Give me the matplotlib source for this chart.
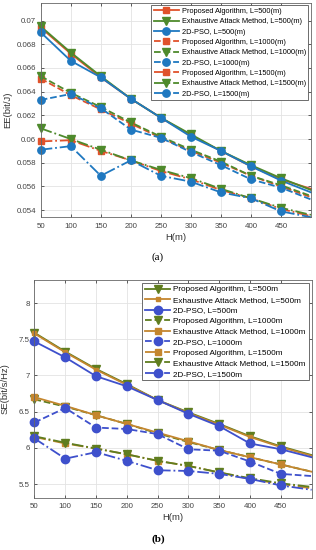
import matplotlib
matplotlib.use("Agg")
import matplotlib.pyplot as plt
from matplotlib.ticker import FuncFormatter

plt.rcParams['font.family'] = ['Liberation Sans', 'DejaVu Sans']

# H(m) values
h = [50, 100, 150, 200, 250, 300, 350, 400, 450, 500]
xticks = [50, 100, 150, 200, 250, 300, 350, 400, 450]

# (a) energy efficiency EE(bit/J)
ee_pa500 = [0.0694, 0.0672, 0.0652, 0.0634, 0.0618, 0.0603, 0.0590, 0.0577, 0.0566, 0.0558]
ee_ea500 = [0.0695, 0.0673, 0.0653, 0.0634, 0.0618, 0.0604, 0.0590, 0.0578, 0.0567, 0.0557]
ee_pso500 = [0.0690, 0.0666, 0.0652, 0.0634, 0.0618, 0.0602, 0.0590, 0.0577, 0.0565, 0.0555]
ee_pa1000 = [0.0651, 0.0637, 0.0625, 0.0613, 0.0601, 0.0590, 0.0580, 0.0569, 0.0560, 0.0551]
ee_ea1000 = [0.0653, 0.0639, 0.0627, 0.0614, 0.0602, 0.0591, 0.0581, 0.0569, 0.0561, 0.0552]
ee_pso1000 = [0.0633, 0.0638, 0.0626, 0.0608, 0.0601, 0.0589, 0.0578, 0.0566, 0.0559, 0.0549]
ee_pa1500 = [0.0598, 0.0599, 0.0590, 0.0582, 0.0573, 0.0566, 0.0557, 0.0550, 0.0541, 0.0535]
ee_ea1500 = [0.0609, 0.0600, 0.0591, 0.0582, 0.0574, 0.0567, 0.0558, 0.0550, 0.0542, 0.0536]
ee_pso1500 = [0.0591, 0.0594, 0.0569, 0.0582, 0.0569, 0.0564, 0.0555, 0.0550, 0.0539, 0.0534]

# (b) spectral efficiency SE(bit/s/Hz)
se_pa500 = [7.59, 7.33, 7.09, 6.88, 6.66, 6.49, 6.33, 6.16, 6.02, 5.90]
se_ea500 = [7.58, 7.32, 7.08, 6.87, 6.66, 6.48, 6.32, 6.15, 6.01, 5.89]
se_pso500 = [7.47, 7.25, 6.99, 6.85, 6.66, 6.47, 6.30, 6.06, 5.98, 5.87]
se_pa1000 = [6.67, 6.57, 6.45, 6.33, 6.20, 6.08, 5.97, 5.87, 5.77, 5.67]
se_ea1000 = [6.70, 6.58, 6.45, 6.33, 6.21, 6.09, 5.97, 5.87, 5.77, 5.67]
se_pso1000 = [6.35, 6.55, 6.28, 6.26, 6.19, 5.98, 5.96, 5.81, 5.64, 5.61]
se_pa1500 = [6.15, 6.06, 5.99, 5.91, 5.82, 5.75, 5.66, 5.57, 5.50, 5.44]
se_ea1500 = [6.16, 6.07, 5.99, 5.91, 5.82, 5.75, 5.66, 5.58, 5.51, 5.46]
se_pso1500 = [6.13, 5.85, 5.94, 5.82, 5.69, 5.68, 5.64, 5.57, 5.48, 5.42]

RED = '#E0522B'
GREEN = '#4E8A2C'
BLUE = '#1F78C0'
OLIVE = '#5F7D1F'
TAN = '#C4862E'
PBLUE = '#3E50CC'

fig = plt.figure(figsize=(3.16, 5.5), dpi=100)
ax1 = fig.add_axes([0.129, 0.605, 0.855, 0.39])
ax2 = fig.add_axes([0.109, 0.095, 0.877, 0.396])

mk = list(range(9))  # last point sits on the right edge, no marker there


def line(ax, y, color, ls, marker, ms, label, lw=1.3):
    ax.plot(h, y, color=color, ls=ls, marker=marker, ms=ms, lw=lw,
            markevery=mk, label=label, clip_on=False)


line(ax1, ee_pa500, RED, '-', 's', 4.5, 'Proposed Algorithm, L=500(m)')
line(ax1, ee_ea500, GREEN, '-', 'v', 5.3, 'Exhaustive Attack Method, L=500(m)')
line(ax1, ee_pso500, BLUE, '-', 'o', 5.3, '2D-PSO, L=500(m)')
line(ax1, ee_pa1000, RED, '--', 's', 4.5, 'Proposed Algorithm, L=1000(m)')
line(ax1, ee_ea1000, GREEN, '--', 'v', 5.3, 'Exhaustive Attack Method, L=1000(m)')
line(ax1, ee_pso1000, BLUE, '--', 'o', 5.3, '2D-PSO, L=1000(m)')
line(ax1, ee_pa1500, RED, '-.', 's', 4.5, 'Proposed Algorithm, L=1500(m)')
line(ax1, ee_ea1500, GREEN, '-.', 'v', 5.3, 'Exhaustive Attack Method, L=1500(m)')
line(ax1, ee_pso1500, BLUE, '-.', 'o', 5.3, '2D-PSO, L=1500(m)')

line(ax2, se_pa500, OLIVE, '-', 'v', 5.5, 'Proposed Algorithm, L=500m')
line(ax2, se_ea500, TAN, '-', 's', 3.5, 'Exhaustive Attack Method, L=500m')
line(ax2, se_pso500, PBLUE, '-', 'o', 6, '2D-PSO, L=500m')
line(ax2, se_pa1000, OLIVE, '--', 'v', 5.5, 'Proposed Algorithm, L=1000m')
line(ax2, se_ea1000, TAN, '-', 's', 4, 'Exhaustive Attack Method, L=1000m')
line(ax2, se_pso1000, PBLUE, '--', 'o', 6, '2D-PSO, L=1000m')
line(ax2, se_pa1500, TAN, '-.', 's', 4, 'Proposed Algorithm, L=1500m')
line(ax2, se_ea1500, OLIVE, '-.', 'v', 5.5, 'Exhaustive Attack Method, L=1500m')
line(ax2, se_pso1500, PBLUE, '-.', 'o', 6, '2D-PSO, L=1500m')

fmt = FuncFormatter(lambda v, p: '{:g}'.format(round(v, 4)))
for ax, ylim, yt, ylab, fs, lsp, hl, lpad in [
        (ax1, (0.0534, 0.0715), [0.054, 0.056, 0.058, 0.06, 0.062, 0.064, 0.066, 0.068, 0.07],
         'EE(bit/J)', 5.3, 0.43, 3.4, 3.5),
        (ax2, (5.31, 8.32), [5.5, 6, 6.5, 7, 7.5, 8], 'SE(bit/s/Hz)', 5.9, 0.34, 3.05, 7)]:
    ax.set_xlim(50, 500)
    ax.set_ylim(*ylim)
    ax.set_xticks(xticks)
    ax.set_yticks(yt)
    ax.yaxis.set_major_formatter(fmt)
    ax.grid(True, color='#e3e3e3', lw=0.6)
    ax.set_axisbelow(True)
    ax.tick_params(direction='in', top=True, right=True, length=2.5, width=0.6,
                   labelsize=5.7, colors='#444444')
    ax.tick_params(axis='x', pad=4)
    ax.tick_params(axis='y', pad=3.2)
    for s in ax.spines.values():
        s.set_color('#666666')
        s.set_linewidth(0.6)
    ax.set_xlabel('H(m)', fontsize=6.8, color='#333333', labelpad=2)
    ax.set_ylabel(ylab, fontsize=6.8, color='#333333', labelpad=lpad)
    leg = ax.legend(loc='upper right', fontsize=fs, handlelength=hl,
                    labelspacing=lsp, borderpad=0.35, handletextpad=0.4,
                    borderaxespad=0.35, fancybox=False, framealpha=1,
                    edgecolor='#555555')
    leg.get_frame().set_linewidth(0.6)

fig.text(0.5, 1 - 257.5 / 550, '(a)', ha='center', va='center',
         family='Liberation Serif', fontsize=8)
fig.text(0.5, 1 - 539 / 550, '(b)', ha='center', va='center',
         family='Liberation Serif', fontsize=8, weight='bold')

fig.savefig('out.png', dpi=100)
